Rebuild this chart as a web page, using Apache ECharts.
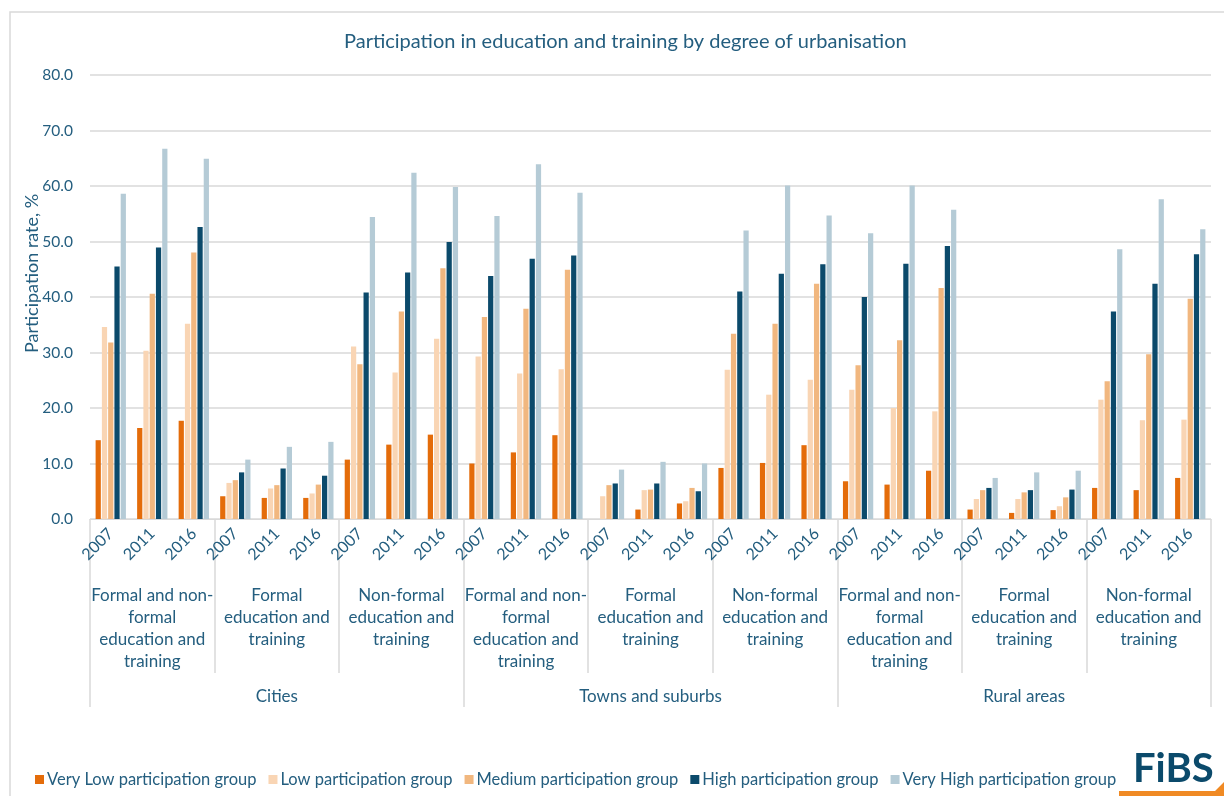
<!DOCTYPE html>
<html>
<head>
<meta charset="utf-8">
<script src="https://cdn.jsdelivr.net/npm/echarts@6/dist/echarts.min.js"></script>
<style>
html,body{margin:0;padding:0;background:#fff;}
#chart{width:1224px;height:796px;}
</style>
</head>
<body>
<div id="chart"></div>
<script>
const years = ['2007','2011','2016','2007','2011','2016','2007','2011','2016',
               '2007','2011','2016','2007','2011','2016','2007','2011','2016',
               '2007','2011','2016','2007','2011','2016','2007','2011','2016'];
const typeLabels = [
  'Formal and non-\nformal\neducation and\ntraining','Formal\neducation and\ntraining','Non-formal\neducation and\ntraining',
  'Formal and non-\nformal\neducation and\ntraining','Formal\neducation and\ntraining','Non-formal\neducation and\ntraining',
  'Formal and non-\nformal\neducation and\ntraining','Formal\neducation and\ntraining','Non-formal\neducation and\ntraining'
];
const regions = ['Cities','Towns and suburbs','Rural areas'];
const seriesNames = ['Very Low participation group','Low participation group','Medium participation group','High participation group','Very High participation group'];
const yTicks = [0,10,20,30,40,50,60,70,80];

const veryLow = [14.2,16.4,17.7, 4.1,3.8,3.8, 10.7,13.4,15.2,
                 10.0,12.0,15.1, null,1.7,2.8, 9.2,10.1,13.3,
                 6.8,6.2,8.7, 1.7,1.1,1.6, 5.6,5.2,7.4];
const low     = [34.6,30.3,35.2, 6.5,5.5,4.6, 31.1,26.4,32.5,
                 29.3,26.2,27.0, 4.1,5.2,3.2, 26.9,22.4,25.1,
                 23.3,20.0,19.4, 3.6,3.6,2.3, 21.5,17.8,17.9];
const medium  = [31.8,40.6,48.0, 7.0,6.1,6.2, 27.9,37.4,45.2,
                 36.4,37.9,44.9, 6.1,5.3,5.6, 33.4,35.2,42.4,
                 27.7,32.2,41.6, 5.2,4.8,3.9, 24.8,29.7,39.7];
const high    = [45.5,48.9,52.6, 8.4,9.1,7.8, 40.8,44.4,49.9,
                 43.8,46.9,47.5, 6.4,6.4,5.0, 41.0,44.2,45.9,
                 40.0,46.0,49.2, 5.6,5.2,5.3, 37.4,42.4,47.7];
const veryHigh= [58.6,66.7,64.9, 10.7,13.0,13.9, 54.4,62.4,59.8,
                 54.6,63.9,58.8, 8.9,10.3,10.0, 52.0,60.1,54.7,
                 51.5,60.1,55.7, 7.4,8.4,8.7, 48.6,57.6,52.2];

const colors = ['#e46c0a','#f9d5b4','#f1b77f','#0b4a6b','#b5cbd6'];
const txt = '#245e7f';
const font = 'Lato, "Noto Sans", sans-serif';
const gridCol = '#d9d9d9';

const chart = echarts.init(document.getElementById('chart'));
const allData = [veryLow, low, medium, high, veryHigh];

chart.setOption({
  animation: false,
  textStyle: {fontFamily: font},
  title: {
    text: 'Participation in education and training by degree of urbanisation',
    left: 339, top: 27,
    textStyle: {color: txt, fontSize: 20, fontWeight: 'normal', fontFamily: font}
  },
  legend: {
    data: seriesNames,
    left: 30, top: 766,
    icon: 'rect', itemWidth: 9, itemHeight: 9, itemGap: 12,
    textStyle: {color: txt, fontSize: 16.5, fontFamily: font, padding: [0,0,0,-2]}
  },
  grid: {left: 90, right: 13, top: 75, bottom: 277, containLabel: false},
  xAxis: [
    {
      type: 'category', data: years, position: 'bottom',
      axisLine: {lineStyle: {color: gridCol, width: 1}},
      axisTick: {show: false},
      axisLabel: {color: txt, fontSize: 16, rotate: 45, margin: 12, interval: 0, fontFamily: font}
    },
    {
      type: 'category', data: typeLabels, position: 'bottom',
      axisLine: {show: false},
      axisTick: {show: true, length: 154, lineStyle: {color: gridCol, width: 1.5}},
      axisLabel: {color: txt, fontSize: 17, margin: 66, lineHeight: 22, interval: 0, fontFamily: font}
    },
    {
      type: 'category', data: regions, position: 'bottom',
      axisLine: {show: false},
      axisTick: {show: true, length: 188, lineStyle: {color: gridCol, width: 1.5}},
      axisLabel: {color: txt, fontSize: 17, margin: 169, interval: 0, fontFamily: font}
    }
  ],
  yAxis: {
    type: 'value', min: yTicks[0], max: yTicks[yTicks.length-1], interval: 10,
    axisLine: {show: false}, axisTick: {show: false},
    splitLine: {lineStyle: {color: gridCol, width: 1.5}},
    axisLabel: {color: txt, fontSize: 15.5, margin: 17, formatter: v => v.toFixed(1), fontFamily: font}
  },
  series: seriesNames.map((n, i) => ({
    name: n, type: 'bar', xAxisIndex: 0, data: allData[i],
    barCategoryGap: '27%', barGap: '20%',
    itemStyle: {color: colors[i]}
  })),
  graphic: [
    {type: 'rect', shape: {x: 10, y: 12, width: 1400, height: 900},
     style: {fill: 'none', stroke: '#d9d9d9', lineWidth: 1.5}, silent: true, z: -10},
    {type: 'text', rotation: Math.PI/2, x: 23, y: 353,
     style: {text: 'Participation rate, %', fill: txt, font: '18px ' + font, textAlign: 'left', textVerticalAlign: 'top'}},
    {type: 'text', x: 1133, y: 749,
     style: {text: 'FiBS', fill: '#0b4a6b', font: 'bold 40px ' + font}},
    {type: 'polygon', shape: {points: [[1119,791],[1215,791],[1224,782],[1224,796],[1119,796]]},
     style: {fill: '#f08a24'}}
  ]
});
</script>
</body>
</html>
